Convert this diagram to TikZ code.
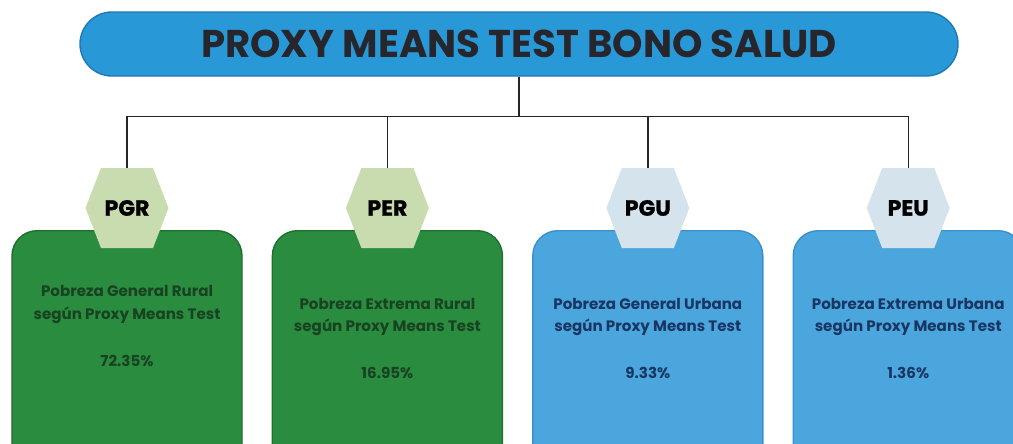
\documentclass[tikz,border=0pt]{standalone}
\usepackage{fontspec}
\setmainfont{Poppins}
\newfontfamily\tagfont[BoldFeatures={FakeBold=1.3}]{Poppins}
\usetikzlibrary{positioning,calc}

\definecolor{pillblue}{RGB}{41,152,214}
\definecolor{pillline}{RGB}{30,122,182}
\definecolor{titletext}{RGB}{38,38,44}
\definecolor{boxgreen}{RGB}{42,140,62}
\definecolor{boxgreenline}{RGB}{30,112,46}
\definecolor{boxblue}{RGB}{76,166,222}
\definecolor{boxblueline}{RGB}{58,144,204}
\definecolor{hexgreen}{RGB}{200,220,175}
\definecolor{hexblue}{RGB}{213,227,236}
\definecolor{textgreen}{RGB}{24,66,34}
\definecolor{textblue}{RGB}{24,54,98}

\begin{document}
\begin{tikzpicture}
    \tikzstyle{titlebox} = [rectangle, rounded corners=0.64cm, fill=pillblue, draw=pillline, line width=0.8pt, minimum width=17.56cm, minimum height=1.28cm, font=\fontsize{22}{26}\selectfont\bfseries, text=titletext]
    \tikzstyle{card} = [rectangle, rounded corners=0.5cm, line width=0.8pt, minimum width=4.6cm, minimum height=4.8cm, anchor=north]
    \tikzstyle{greencard} = [card, fill=boxgreen, draw=boxgreenline]
    \tikzstyle{bluecard} = [card, fill=boxblue, draw=boxblueline]
    \tikzstyle{tag} = [minimum width=1.66cm, minimum height=1.6cm, inner sep=0pt, font=\tagfont\fontsize{12.5}{14}\selectfont\bfseries, text=black]
    \tikzstyle{info} = [align=center, font=\fontsize{8.6}{13}\selectfont\bfseries]
    \tikzstyle{link} = [line width=0.8pt, draw=black!85]

    \useasboundingbox (0,0) rectangle (20.26,-8.86);
    \clip (0,0) rectangle (20.26,-8.86);

    \node [titlebox] (t) at (10.38,-0.88) {PROXY MEANS TEST BONO SALUD};

    \node [greencard] (b1) at (2.54,-4.6) {};
    \node [greencard, right=0.58cm of b1] (b2) {};
    \node [bluecard, right=0.58cm of b2] (b3) {};
    \node [bluecard, right=0.58cm of b3] (b4) {};

    % hexagon tags on top of the cards
    \foreach \i/\c in {1/hexgreen,2/hexgreen,3/hexblue,4/hexblue}
        \fill [\c] ([yshift=0.44cm]b\i.north) ++(-0.83,0) -- ++(0.31,0.8) -- ++(1.04,0) -- ++(0.31,-0.8) -- ++(-0.31,-0.8) -- ++(-1.04,0) -- cycle;

    \node [tag] (h1) at ([yshift=0.44cm]b1.north) {PGR};
    \node [tag] (h2) at ([yshift=0.44cm]b2.north) {PER};
    \node [tag] (h3) at ([yshift=0.44cm]b3.north) {PGU};
    \node [tag] (h4) at ([yshift=0.44cm]b4.north) {PEU};

    \node [info, text=textgreen] (d1) at ([yshift=-1.49cm]b1.north) {Pobreza General Rural\\según Proxy Means Test};
    \node [info, text=textgreen] (p1) at ([yshift=-2.62cm]b1.north) {72.35\%};
    \node [info, text=textgreen] (d2) at ([yshift=-1.74cm]b2.north) {Pobreza Extrema Rural\\según Proxy Means Test};
    \node [info, text=textgreen] (p2) at ([yshift=-2.86cm]b2.north) {16.95\%};
    \node [info, text=textblue] (d3) at ([yshift=-1.74cm]b3.north) {Pobreza General Urbana\\según Proxy Means Test};
    \node [info, text=textblue] (p3) at ([yshift=-2.86cm]b3.north) {9.33\%};
    \node [info, text=textblue] (d4) at ([yshift=-1.74cm]b4.north) {Pobreza Extrema Urbana\\según Proxy Means Test};
    \node [info, text=textblue] (p4) at ([yshift=-2.86cm]b4.north) {1.36\%};

    \coordinate (j) at ([yshift=-0.8cm]t.south);
    \draw [link] (t.south) -- (j);
    \draw [link] (h1.north) |- (j) -| (h4.north);
    \draw [link] (h2.north) -- (h2.north |- j);
    \draw [link] (h3.north) -- (h3.north |- j);
\end{tikzpicture}
\end{document}
